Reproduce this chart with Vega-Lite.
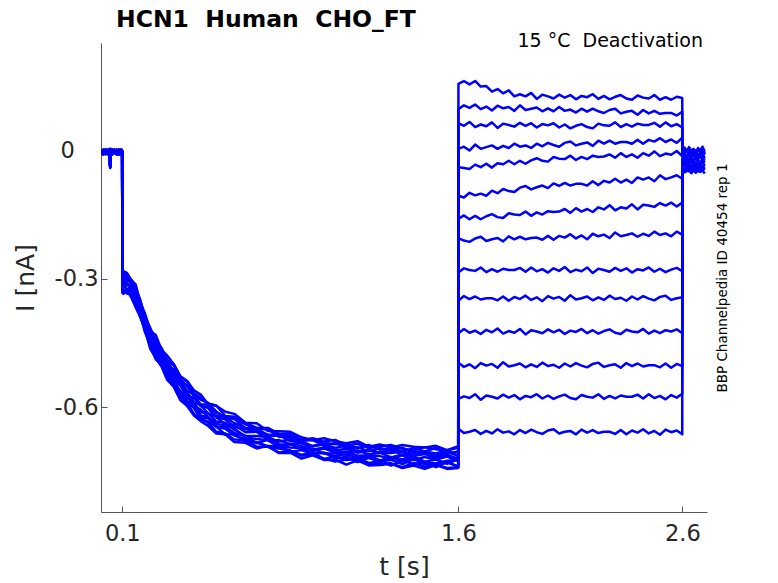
{
  "$schema": "https://vega.github.io/schema/vega-lite/v6.json",
  "width": 606,
  "height": 469,
  "autosize": "none",
  "padding": {"left": 101, "top": 43, "right": 71, "bottom": 71},
  "background": "white",
  "config": {"view": {"stroke": null}, "font": "DejaVu Sans"},
  "title": {"text": "HCN1\u00a0 Human\u00a0 CHO_FT", "anchor": "start", "frame": "group", "fontSize": 23.5, "fontWeight": "bold", "font": "DejaVu Sans", "color": "#000000", "offset": 1, "dx": 15},
  "resolve": {"axis": {"y": "independent"}},
  "layer": [
    {
      "data": {"values": [
        {"t":0.006,"a":0.001,"b":-0.007,"c":0,"d":-0.005,"e":-0.005,"f":0,"g":-0.006,"h":-0.007,"i":0,"j":-0.009,"k":-0.006,"l":0.004,"m":-0.006,"n":-0.007},
        {"t":0.015,"a":-0.002,"b":0,"c":-0.003,"d":0.003,"e":-0.008,"f":-0.008,"g":0.001,"h":0.002,"i":-0.008,"j":0.003,"k":0.003,"l":-0.004,"m":0.001,"n":0.001},
        {"t":0.025,"a":-0.006,"b":-0.006,"c":0.004,"d":-0.003,"e":0.002,"f":0.003,"g":-0.002,"h":-0.008,"i":0.002,"j":-0.003,"k":-0.004,"l":-0.001,"m":-0.007,"n":0.004},
        {"t":0.035,"a":0.003,"b":0.004,"c":-0.006,"d":-0.007,"e":-0.002,"f":-0.004,"g":-0.002,"h":0.001,"i":-0.004,"j":0.001,"k":0.002,"l":-0.008,"m":-0.001,"n":-0.006},
        {"t":0.043,"a":-0.004,"b":-0.004,"c":0.001,"d":0.001,"e":-0.004,"f":0.002,"g":0.003,"h":-0.004,"i":0.005,"j":-0.008,"k":-0.008,"l":0.002,"m":0.003,"n":-0.002},
        {"t":0.046,"a":-0.034,"b":-0.038,"c":-0.031,"d":-0.036,"e":-0.039,"f":-0.033,"g":-0.035,"h":-0.037,"i":-0.032,"j":-0.04,"k":-0.036,"l":-0.034,"m":-0.038,"n":-0.033},
        {"t":0.049,"a":0.002,"b":-0.001,"c":-0.007,"d":0.004,"e":0.004,"f":-0.005,"g":-0.006,"h":0.004,"i":-0.007,"j":0.005,"k":0,"l":-0.005,"m":-0.005,"n":0},
        {"t":0.055,"a":-0.008,"b":-0.008,"c":-0.001,"d":-0.006,"e":-0.007,"f":-0.002,"g":0.004,"h":-0.006,"i":-0.001,"j":-0.005,"k":-0.003,"l":0.003,"m":-0.008,"n":-0.008},
        {"t":0.065,"a":0,"b":0.002,"c":0.003,"d":-0.002,"e":0,"f":-0.002,"g":-0.005,"h":0,"i":-0.005,"j":-0.002,"k":0.004,"l":-0.003,"m":0.002,"n":0.003},
        {"t":0.075,"a":-0.003,"b":-0.005,"c":-0.005,"d":0,"e":-0.006,"f":-0.007,"g":0,"h":-0.009,"i":0.004,"j":0.002,"k":-0.006,"l":-0.007,"m":-0.002,"n":-0.004},
        {"t":0.085,"a":0.004,"b":0.003,"c":-0.008,"d":-0.008,"e":0.001,"f":0.002,"g":-0.008,"h":0.003,"i":-0.009,"j":-0.007,"k":0.001,"l":0.001,"m":-0.004,"n":0.002},
        {"t":0.095,"a":-0.006,"b":-0.003,"c":0.002,"d":0.003,"e":-0.002,"f":-0.008,"g":0.002,"h":-0.003,"i":0.001,"j":0,"k":-0.007,"l":0.004,"m":0.004,"n":-0.005},
        {"t":0.0995,"a":0.001,"b":-0.007,"c":-0.002,"d":-0.004,"e":-0.002,"f":0.001,"g":-0.004,"h":0.001,"i":-0.002,"j":-0.006,"k":-0.001,"l":-0.006,"m":-0.007,"n":-0.002},
        {"t":0.1005,"a":-0.274,"b":-0.314,"c":-0.278,"d":-0.32,"e":-0.299,"f":-0.328,"g":-0.296,"h":-0.315,"i":-0.278,"j":-0.333,"k":-0.299,"l":-0.308,"m":-0.289,"n":-0.323},
        {"t":0.105,"a":-0.282,"b":-0.302,"c":-0.291,"d":-0.329,"e":-0.291,"f":-0.335,"g":-0.304,"h":-0.313,"i":-0.284,"j":-0.324,"k":-0.29,"l":-0.317,"m":-0.293,"n":-0.313},
        {"t":0.12,"a":-0.285,"b":-0.313,"c":-0.292,"d":-0.323,"e":-0.303,"f":-0.326,"g":-0.314,"h":-0.324,"i":-0.289,"j":-0.334,"k":-0.31,"l":-0.308,"m":-0.293,"n":-0.324},
        {"t":0.14,"a":-0.302,"b":-0.32,"c":-0.306,"d":-0.34,"e":-0.307,"f":-0.343,"g":-0.315,"h":-0.324,"i":-0.303,"j":-0.336,"k":-0.315,"l":-0.329,"m":-0.311,"n":-0.332},
        {"t":0.16,"a":-0.313,"b":-0.349,"c":-0.33,"d":-0.35,"e":-0.337,"f":-0.367,"g":-0.339,"h":-0.351,"i":-0.323,"j":-0.361,"k":-0.339,"l":-0.346,"m":-0.325,"n":-0.359},
        {"t":0.18,"a":-0.355,"b":-0.366,"c":-0.351,"d":-0.388,"e":-0.36,"f":-0.389,"g":-0.371,"h":-0.375,"i":-0.348,"j":-0.383,"k":-0.36,"l":-0.372,"m":-0.365,"n":-0.379},
        {"t":0.2,"a":-0.379,"b":-0.406,"c":-0.388,"d":-0.415,"e":-0.398,"f":-0.416,"g":-0.393,"h":-0.412,"i":-0.387,"j":-0.423,"k":-0.403,"l":-0.411,"m":-0.387,"n":-0.416},
        {"t":0.225,"a":-0.421,"b":-0.441,"c":-0.42,"d":-0.46,"e":-0.43,"f":-0.464,"g":-0.442,"h":-0.447,"i":-0.415,"j":-0.455,"k":-0.431,"l":-0.442,"m":-0.428,"n":-0.446},
        {"t":0.25,"a":-0.432,"b":-0.46,"c":-0.451,"d":-0.475,"e":-0.447,"f":-0.486,"g":-0.458,"h":-0.472,"i":-0.445,"j":-0.489,"k":-0.456,"l":-0.472,"m":-0.443,"n":-0.476},
        {"t":0.275,"a":-0.466,"b":-0.49,"c":-0.464,"d":-0.503,"e":-0.476,"f":-0.505,"g":-0.485,"h":-0.498,"i":-0.461,"j":-0.498,"k":-0.481,"l":-0.483,"m":-0.474,"n":-0.501},
        {"t":0.3,"a":-0.479,"b":-0.506,"c":-0.49,"d":-0.518,"e":-0.502,"f":-0.536,"g":-0.501,"h":-0.512,"i":-0.492,"j":-0.527,"k":-0.495,"l":-0.514,"m":-0.49,"n":-0.516},
        {"t":0.33,"a":-0.5,"b":-0.536,"c":-0.503,"d":-0.55,"e":-0.513,"f":-0.553,"g":-0.526,"h":-0.547,"i":-0.5,"j":-0.551,"k":-0.524,"l":-0.535,"m":-0.518,"n":-0.539},
        {"t":0.36,"a":-0.528,"b":-0.55,"c":-0.537,"d":-0.578,"e":-0.541,"f":-0.584,"g":-0.55,"h":-0.562,"i":-0.53,"j":-0.584,"k":-0.542,"l":-0.566,"m":-0.536,"n":-0.573},
        {"t":0.39,"a":-0.539,"b":-0.578,"c":-0.55,"d":-0.59,"e":-0.563,"f":-0.598,"g":-0.565,"h":-0.587,"i":-0.541,"j":-0.591,"k":-0.572,"l":-0.576,"m":-0.552,"n":-0.589},
        {"t":0.42,"a":-0.561,"b":-0.59,"c":-0.573,"d":-0.602,"e":-0.57,"f":-0.62,"g":-0.589,"h":-0.594,"i":-0.568,"j":-0.616,"k":-0.579,"l":-0.598,"m":-0.575,"n":-0.602},
        {"t":0.45,"a":-0.571,"b":-0.613,"c":-0.583,"d":-0.628,"e":-0.597,"f":-0.633,"g":-0.595,"h":-0.62,"i":-0.578,"j":-0.629,"k":-0.598,"l":-0.606,"m":-0.594,"n":-0.626},
        {"t":0.48,"a":-0.591,"b":-0.613,"c":-0.589,"d":-0.634,"e":-0.6,"f":-0.643,"g":-0.614,"h":-0.624,"i":-0.592,"j":-0.635,"k":-0.601,"l":-0.622,"m":-0.594,"n":-0.625},
        {"t":0.52,"a":-0.597,"b":-0.634,"c":-0.611,"d":-0.646,"e":-0.62,"f":-0.662,"g":-0.623,"h":-0.647,"i":-0.597,"j":-0.658,"k":-0.625,"l":-0.64,"m":-0.612,"n":-0.646},
        {"t":0.56,"a":-0.611,"b":-0.637,"c":-0.625,"d":-0.665,"e":-0.624,"f":-0.664,"g":-0.642,"h":-0.646,"i":-0.621,"j":-0.662,"k":-0.629,"l":-0.643,"m":-0.625,"n":-0.651},
        {"t":0.6,"a":-0.616,"b":-0.653,"c":-0.626,"d":-0.663,"e":-0.638,"f":-0.682,"g":-0.642,"h":-0.661,"i":-0.623,"j":-0.676,"k":-0.647,"l":-0.65,"m":-0.628,"n":-0.667},
        {"t":0.65,"a":-0.637,"b":-0.668,"c":-0.641,"d":-0.681,"e":-0.649,"f":-0.684,"g":-0.659,"h":-0.668,"i":-0.637,"j":-0.677,"k":-0.652,"l":-0.671,"m":-0.65,"n":-0.675},
        {"t":0.7,"a":-0.638,"b":-0.668,"c":-0.651,"d":-0.683,"e":-0.652,"f":-0.697,"g":-0.658,"h":-0.685,"i":-0.649,"j":-0.693,"k":-0.656,"l":-0.675,"m":-0.651,"n":-0.683},
        {"t":0.75,"a":-0.656,"b":-0.67,"c":-0.652,"d":-0.693,"e":-0.669,"f":-0.691,"g":-0.677,"h":-0.676,"i":-0.649,"j":-0.693,"k":-0.671,"l":-0.678,"m":-0.665,"n":-0.692},
        {"t":0.8,"a":-0.657,"b":-0.687,"c":-0.67,"d":-0.697,"e":-0.666,"f":-0.708,"g":-0.678,"h":-0.693,"i":-0.663,"j":-0.707,"k":-0.681,"l":-0.693,"m":-0.665,"n":-0.69},
        {"t":0.85,"a":-0.658,"b":-0.688,"c":-0.668,"d":-0.702,"e":-0.68,"f":-0.707,"g":-0.687,"h":-0.695,"i":-0.662,"j":-0.702,"k":-0.676,"l":-0.687,"m":-0.673,"n":-0.705},
        {"t":0.9,"a":-0.671,"b":-0.691,"c":-0.679,"d":-0.712,"e":-0.68,"f":-0.721,"g":-0.683,"h":-0.696,"i":-0.677,"j":-0.714,"k":-0.685,"l":-0.699,"m":-0.678,"n":-0.701},
        {"t":0.95,"a":-0.678,"b":-0.703,"c":-0.676,"d":-0.707,"e":-0.692,"f":-0.713,"g":-0.7,"h":-0.709,"i":-0.673,"j":-0.71,"k":-0.691,"l":-0.697,"m":-0.677,"n":-0.71},
        {"t":1.0,"a":-0.673,"b":-0.697,"c":-0.684,"d":-0.722,"e":-0.687,"f":-0.724,"g":-0.695,"h":-0.707,"i":-0.681,"j":-0.721,"k":-0.688,"l":-0.709,"m":-0.691,"n":-0.707},
        {"t":1.05,"a":-0.68,"b":-0.707,"c":-0.687,"d":-0.716,"e":-0.696,"f":-0.723,"g":-0.701,"h":-0.716,"i":-0.677,"j":-0.728,"k":-0.702,"l":-0.709,"m":-0.684,"n":-0.72},
        {"t":1.1,"a":-0.685,"b":-0.704,"c":-0.685,"d":-0.724,"e":-0.69,"f":-0.735,"g":-0.708,"h":-0.709,"i":-0.69,"j":-0.723,"k":-0.698,"l":-0.712,"m":-0.696,"n":-0.717},
        {"t":1.15,"a":-0.68,"b":-0.714,"c":-0.697,"d":-0.719,"e":-0.705,"f":-0.725,"g":-0.702,"h":-0.72,"i":-0.686,"j":-0.723,"k":-0.707,"l":-0.72,"m":-0.694,"n":-0.729},
        {"t":1.2,"a":-0.693,"b":-0.713,"c":-0.689,"d":-0.731,"e":-0.701,"f":-0.737,"g":-0.711,"h":-0.719,"i":-0.696,"j":-0.735,"k":-0.702,"l":-0.713,"m":-0.704,"n":-0.719},
        {"t":1.25,"a":-0.688,"b":-0.715,"c":-0.7,"d":-0.727,"e":-0.707,"f":-0.736,"g":-0.707,"h":-0.728,"i":-0.692,"j":-0.733,"k":-0.707,"l":-0.725,"m":-0.696,"n":-0.727},
        {"t":1.3,"a":-0.695,"b":-0.721,"c":-0.696,"d":-0.737,"e":-0.699,"f":-0.733,"g":-0.718,"h":-0.719,"i":-0.689,"j":-0.732,"k":-0.708,"l":-0.717,"m":-0.703,"n":-0.724},
        {"t":1.35,"a":-0.689,"b":-0.713,"c":-0.705,"d":-0.726,"e":-0.713,"f":-0.743,"g":-0.711,"h":-0.727,"i":-0.698,"j":-0.741,"k":-0.704,"l":-0.723,"m":-0.695,"n":-0.734},
        {"t":1.4,"a":-0.693,"b":-0.724,"c":-0.696,"d":-0.733,"e":-0.704,"f":-0.737,"g":-0.715,"h":-0.72,"i":-0.702,"j":-0.731,"k":-0.714,"l":-0.716,"m":-0.708,"n":-0.722},
        {"t":1.45,"a":-0.695,"b":-0.717,"c":-0.704,"d":-0.731,"e":-0.709,"f":-0.745,"g":-0.71,"h":-0.728,"i":-0.694,"j":-0.74,"k":-0.706,"l":-0.728,"m":-0.704,"n":-0.734},
        {"t":1.5,"a":-0.691,"b":-0.723,"c":-0.696,"d":-0.741,"e":-0.714,"f":-0.736,"g":-0.721,"h":-0.733,"i":-0.699,"j":-0.735,"k":-0.716,"l":-0.723,"m":-0.709,"n":-0.732},
        {"t":1.55,"a":-0.701,"b":-0.716,"c":-0.709,"d":-0.729,"e":-0.706,"f":-0.745,"g":-0.715,"h":-0.726,"i":-0.702,"j":-0.743,"k":-0.712,"l":-0.733,"m":-0.701,"n":-0.729},
        {"t":1.5995,"a":-0.692,"b":-0.727,"c":-0.704,"d":-0.74,"e":-0.714,"f":-0.743,"g":-0.724,"h":-0.724,"i":-0.695,"j":-0.741,"k":-0.721,"l":-0.722,"m":-0.715,"n":-0.739},
        {"t":1.6005,"a":0.157,"b":0.098,"c":0.065,"d":0.005,"e":-0.038,"f":-0.105,"g":-0.159,"h":-0.204,"i":-0.285,"j":-0.351,"k":-0.427,"l":-0.496,"m":-0.581,"n":-0.651},
        {"t":1.625,"a":0.164,"b":0.107,"c":0.059,"d":0.01,"e":-0.04,"f":-0.109,"g":-0.151,"h":-0.21,"i":-0.275,"j":-0.34,"k":-0.417,"l":-0.506,"m":-0.575,"n":-0.661},
        {"t":1.65,"a":0.156,"b":0.101,"c":0.068,"d":0.001,"e":-0.042,"f":-0.098,"g":-0.16,"h":-0.213,"i":-0.279,"j":-0.347,"k":-0.426,"l":-0.5,"m":-0.579,"n":-0.658},
        {"t":1.675,"a":0.164,"b":0.109,"c":0.056,"d":0.015,"e":-0.032,"f":-0.104,"g":-0.152,"h":-0.205,"i":-0.281,"j":-0.341,"k":-0.421,"l":-0.509,"m":-0.57,"n":-0.654},
        {"t":1.7,"a":0.151,"b":0.098,"c":0.062,"d":0.005,"e":-0.038,"f":-0.1,"g":-0.16,"h":-0.201,"i":-0.273,"j":-0.348,"k":-0.429,"l":-0.497,"m":-0.583,"n":-0.663},
        {"t":1.725,"a":0.152,"b":0.104,"c":0.058,"d":0.009,"e":-0.03,"f":-0.105,"g":-0.153,"h":-0.211,"i":-0.284,"j":-0.345,"k":-0.419,"l":-0.503,"m":-0.573,"n":-0.656},
        {"t":1.75,"a":0.139,"b":0.095,"c":0.067,"d":0.013,"e":-0.039,"f":-0.093,"g":-0.148,"h":-0.207,"i":-0.277,"j":-0.345,"k":-0.425,"l":-0.499,"m":-0.576,"n":-0.662},
        {"t":1.775,"a":0.145,"b":0.106,"c":0.054,"d":0.005,"e":-0.029,"f":-0.099,"g":-0.155,"h":-0.204,"i":-0.283,"j":-0.35,"k":-0.416,"l":-0.508,"m":-0.58,"n":-0.652},
        {"t":1.8,"a":0.135,"b":0.1,"c":0.064,"d":0.012,"e":-0.031,"f":-0.089,"g":-0.157,"h":-0.212,"i":-0.276,"j":-0.341,"k":-0.428,"l":-0.495,"m":-0.571,"n":-0.66},
        {"t":1.825,"a":0.142,"b":0.103,"c":0.061,"d":0.007,"e":-0.023,"f":-0.094,"g":-0.146,"h":-0.2,"i":-0.279,"j":-0.351,"k":-0.422,"l":-0.505,"m":-0.578,"n":-0.657},
        {"t":1.85,"a":0.128,"b":0.094,"c":0.057,"d":0.017,"e":-0.031,"f":-0.096,"g":-0.149,"h":-0.207,"i":-0.279,"j":-0.342,"k":-0.426,"l":-0.502,"m":-0.572,"n":-0.664},
        {"t":1.875,"a":0.133,"b":0.107,"c":0.066,"d":0.01,"e":-0.023,"f":-0.086,"g":-0.15,"h":-0.201,"i":-0.274,"j":-0.347,"k":-0.417,"l":-0.498,"m":-0.582,"n":-0.654},
        {"t":1.9,"a":0.128,"b":0.096,"c":0.059,"d":0.013,"e":-0.03,"f":-0.082,"g":-0.142,"h":-0.207,"i":-0.283,"j":-0.339,"k":-0.43,"l":-0.507,"m":-0.574,"n":-0.661},
        {"t":1.925,"a":0.136,"b":0.099,"c":0.065,"d":0.007,"e":-0.022,"f":-0.09,"g":-0.152,"h":-0.204,"i":-0.273,"j":-0.349,"k":-0.42,"l":-0.5,"m":-0.577,"n":-0.653},
        {"t":1.95,"a":0.122,"b":0.102,"c":0.055,"d":0.017,"e":-0.017,"f":-0.085,"g":-0.144,"h":-0.203,"i":-0.282,"j":-0.343,"k":-0.423,"l":-0.506,"m":-0.57,"n":-0.659},
        {"t":1.975,"a":0.132,"b":0.093,"c":0.063,"d":0.011,"e":-0.023,"f":-0.081,"g":-0.149,"h":-0.208,"i":-0.277,"j":-0.352,"k":-0.427,"l":-0.496,"m":-0.58,"n":-0.663},
        {"t":2.0,"a":0.128,"b":0.1,"c":0.06,"d":0.019,"e":-0.025,"f":-0.087,"g":-0.141,"h":-0.199,"i":-0.285,"j":-0.34,"k":-0.418,"l":-0.504,"m":-0.573,"n":-0.655},
        {"t":2.025,"a":0.123,"b":0.093,"c":0.065,"d":0.014,"e":-0.014,"f":-0.076,"g":-0.143,"h":-0.208,"i":-0.275,"j":-0.346,"k":-0.425,"l":-0.501,"m":-0.581,"n":-0.652},
        {"t":2.05,"a":0.132,"b":0.103,"c":0.055,"d":0.01,"e":-0.018,"f":-0.082,"g":-0.142,"h":-0.199,"i":-0.281,"j":-0.342,"k":-0.419,"l":-0.508,"m":-0.575,"n":-0.662},
        {"t":2.075,"a":0.125,"b":0.094,"c":0.062,"d":0.019,"e":-0.019,"f":-0.075,"g":-0.136,"h":-0.203,"i":-0.272,"j":-0.351,"k":-0.429,"l":-0.498,"m":-0.571,"n":-0.658},
        {"t":2.1,"a":0.131,"b":0.097,"c":0.053,"d":0.022,"e":-0.011,"f":-0.081,"g":-0.145,"h":-0.195,"i":-0.284,"j":-0.338,"k":-0.421,"l":-0.505,"m":-0.579,"n":-0.656},
        {"t":2.125,"a":0.121,"b":0.09,"c":0.059,"d":0.013,"e":-0.021,"f":-0.077,"g":-0.134,"h":-0.205,"i":-0.278,"j":-0.348,"k":-0.424,"l":-0.497,"m":-0.582,"n":-0.664},
        {"t":2.15,"a":0.129,"b":0.099,"c":0.063,"d":0.017,"e":-0.014,"f":-0.077,"g":-0.142,"h":-0.198,"i":-0.282,"j":-0.345,"k":-0.417,"l":-0.503,"m":-0.572,"n":-0.653},
        {"t":2.175,"a":0.126,"b":0.092,"c":0.056,"d":0.02,"e":-0.019,"f":-0.081,"g":-0.136,"h":-0.207,"i":-0.273,"j":-0.341,"k":-0.427,"l":-0.507,"m":-0.576,"n":-0.66},
        {"t":2.2,"a":0.133,"b":0.099,"c":0.053,"d":0.012,"e":-0.011,"f":-0.071,"g":-0.143,"h":-0.194,"i":-0.286,"j":-0.35,"k":-0.42,"l":-0.499,"m":-0.578,"n":-0.654},
        {"t":2.225,"a":0.122,"b":0.093,"c":0.064,"d":0.024,"e":-0.014,"f":-0.08,"g":-0.132,"h":-0.2,"i":-0.276,"j":-0.343,"k":-0.428,"l":-0.496,"m":-0.57,"n":-0.661},
        {"t":2.25,"a":0.129,"b":0.089,"c":0.06,"d":0.017,"e":-0.013,"f":-0.07,"g":-0.137,"h":-0.196,"i":-0.279,"j":-0.349,"k":-0.422,"l":-0.506,"m":-0.581,"n":-0.658},
        {"t":2.275,"a":0.121,"b":0.096,"c":0.059,"d":0.024,"e":-0.008,"f":-0.074,"g":-0.127,"h":-0.204,"i":-0.283,"j":-0.339,"k":-0.418,"l":-0.502,"m":-0.574,"n":-0.658},
        {"t":2.3,"a":0.127,"b":0.099,"c":0.067,"d":0.017,"e":-0.016,"f":-0.065,"g":-0.139,"h":-0.191,"i":-0.274,"j":-0.347,"k":-0.426,"l":-0.5,"m":-0.58,"n":-0.663},
        {"t":2.325,"a":0.131,"b":0.088,"c":0.056,"d":0.021,"e":-0.005,"f":-0.074,"g":-0.132,"h":-0.2,"i":-0.281,"j":-0.344,"k":-0.429,"l":-0.508,"m":-0.573,"n":-0.654},
        {"t":2.35,"a":0.123,"b":0.092,"c":0.063,"d":0.021,"e":-0.014,"f":-0.067,"g":-0.135,"h":-0.197,"i":-0.275,"j":-0.351,"k":-0.419,"l":-0.497,"m":-0.576,"n":-0.664},
        {"t":2.375,"a":0.12,"b":0.094,"c":0.057,"d":0.017,"e":-0.008,"f":-0.075,"g":-0.125,"h":-0.193,"i":-0.285,"j":-0.341,"k":-0.423,"l":-0.504,"m":-0.576,"n":-0.655},
        {"t":2.4,"a":0.13,"b":0.085,"c":0.064,"d":0.026,"e":-0.016,"f":-0.062,"g":-0.137,"h":-0.201,"i":-0.277,"j":-0.348,"k":-0.425,"l":-0.498,"m":-0.571,"n":-0.66},
        {"t":2.425,"a":0.125,"b":0.096,"c":0.061,"d":0.017,"e":-0.005,"f":-0.067,"g":-0.126,"h":-0.194,"i":-0.28,"j":-0.34,"k":-0.417,"l":-0.505,"m":-0.58,"n":-0.652},
        {"t":2.45,"a":0.123,"b":0.088,"c":0.061,"d":0.026,"e":-0.011,"f":-0.062,"g":-0.128,"h":-0.199,"i":-0.273,"j":-0.346,"k":-0.428,"l":-0.502,"m":-0.57,"n":-0.662},
        {"t":2.475,"a":0.131,"b":0.094,"c":0.066,"d":0.022,"e":-0.001,"f":-0.071,"g":-0.131,"h":-0.189,"i":-0.283,"j":-0.35,"k":-0.421,"l":-0.502,"m":-0.579,"n":-0.656},
        {"t":2.5,"a":0.12,"b":0.087,"c":0.057,"d":0.03,"e":-0.012,"f":-0.057,"g":-0.122,"h":-0.197,"i":-0.276,"j":-0.342,"k":-0.427,"l":-0.507,"m":-0.574,"n":-0.665},
        {"t":2.525,"a":0.126,"b":0.089,"c":0.067,"d":0.021,"e":-0.006,"f":-0.066,"g":-0.128,"h":-0.193,"i":-0.284,"j":-0.339,"k":-0.42,"l":-0.498,"m":-0.582,"n":-0.653},
        {"t":2.55,"a":0.12,"b":0.089,"c":0.058,"d":0.027,"e":-0.009,"f":-0.062,"g":-0.121,"h":-0.2,"i":-0.278,"j":-0.349,"k":-0.423,"l":-0.508,"m":-0.572,"n":-0.659},
        {"t":2.575,"a":0.127,"b":0.083,"c":0.063,"d":0.019,"e":0,"f":-0.057,"g":-0.13,"h":-0.189,"i":-0.274,"j":-0.345,"k":-0.418,"l":-0.499,"m":-0.578,"n":-0.655},
        {"t":2.5995,"a":0.124,"b":0.092,"c":0.055,"d":0.031,"e":-0.012,"f":-0.065,"g":-0.121,"h":-0.196,"i":-0.282,"j":-0.343,"k":-0.427,"l":-0.504,"m":-0.569,"n":-0.664},
        {"t":2.6005,"a":0.003,"b":-0.007,"c":-0.001,"d":-0.01,"e":-0.01,"f":-0.015,"g":-0.022,"h":-0.02,"i":-0.035,"j":-0.039,"k":-0.041,"l":-0.035,"m":-0.049,"n":-0.04},
        {"t":2.61,"a":0.008,"b":0.002,"c":-0.007,"d":-0.006,"e":-0.013,"f":-0.021,"g":-0.015,"h":-0.026,"i":-0.025,"j":-0.028,"k":-0.031,"l":-0.045,"m":-0.043,"n":-0.05},
        {"t":2.62,"a":-0.001,"b":-0.003,"c":0.002,"d":-0.015,"e":-0.017,"f":-0.011,"g":-0.025,"h":-0.03,"i":-0.029,"j":-0.035,"k":-0.04,"l":-0.039,"m":-0.047,"n":-0.047},
        {"t":2.63,"a":0.009,"b":0.005,"c":-0.01,"d":-0.002,"e":-0.008,"f":-0.019,"g":-0.018,"h":-0.022,"i":-0.031,"j":-0.029,"k":-0.035,"l":-0.048,"m":-0.038,"n":-0.043},
        {"t":2.64,"a":0,"b":-0.005,"c":-0.004,"d":-0.012,"e":-0.015,"f":-0.016,"g":-0.026,"h":-0.019,"i":-0.023,"j":-0.036,"k":-0.043,"l":-0.036,"m":-0.051,"n":-0.052},
        {"t":2.65,"a":0.005,"b":0.001,"c":-0.008,"d":-0.009,"e":-0.009,"f":-0.023,"g":-0.02,"h":-0.029,"i":-0.034,"j":-0.033,"k":-0.033,"l":-0.042,"m":-0.041,"n":-0.045},
        {"t":2.66,"a":-0.003,"b":-0.008,"c":0.001,"d":-0.005,"e":-0.019,"f":-0.013,"g":-0.016,"h":-0.025,"i":-0.027,"j":-0.033,"k":-0.039,"l":-0.038,"m":-0.044,"n":-0.051},
        {"t":2.67,"a":0.007,"b":0.004,"c":-0.012,"d":-0.014,"e":-0.011,"f":-0.02,"g":-0.024,"h":-0.023,"i":-0.033,"j":-0.038,"k":-0.03,"l":-0.047,"m":-0.048,"n":-0.041},
        {"t":2.68,"a":0.001,"b":-0.002,"c":-0.002,"d":-0.007,"e":-0.014,"f":-0.012,"g":-0.027,"h":-0.031,"i":-0.026,"j":-0.029,"k":-0.042,"l":-0.034,"m":-0.039,"n":-0.049},
        {"t":2.69,"a":0.01,"b":0.002,"c":-0.005,"d":-0.013,"e":-0.007,"f":-0.018,"g":-0.017,"h":-0.02,"i":-0.029,"j":-0.039,"k":-0.036,"l":-0.044,"m":-0.046,"n":-0.046},
        {"t":2.7,"a":-0.002,"b":-0.007,"c":-0.009,"d":-0.003,"e":-0.017,"f":-0.022,"g":-0.021,"h":-0.027,"i":-0.029,"j":-0.03,"k":-0.04,"l":-0.041,"m":-0.04,"n":-0.053}
      ]},
      "transform": [{"fold": ["a","b","c","d","e","f","g","h","i","j","k","l","m","n"], "as": ["sweep","I"]}],
      "mark": {"type": "line", "color": "#0000ff", "strokeWidth": 2.5, "strokeJoin": "round", "clip": true},
      "encoding": {
        "x": {
          "field": "t", "type": "quantitative",
          "scale": {"domain": [0.005, 2.71], "nice": false, "zero": false},
          "axis": {"values": [0.1, 1.6, 2.6], "format": ".1f", "title": "t [s]", "grid": false,
            "labelFontSize": 22.5, "labelColor": "#262626", "labelFlush": false, "labelOverlap": false, "labelPadding": 16,
            "tickSize": -6, "tickColor": "#555555", "domainColor": "#555555",
            "titleFontSize": 25, "titleFontWeight": "normal", "titleColor": "#262626", "titlePadding": 10}
        },
        "y": {
          "field": "I", "type": "quantitative",
          "scale": {"domain": [-0.846, 0.253], "nice": false, "zero": false},
          "axis": {"values": [-0.6, -0.3, 0], "labelExpr": "datum.value == 0 ? '0\u00a0\u2800' : '-' + format(-datum.value, '.1f')", "title": "I [nA]", "grid": false,
            "labelFontSize": 22.5, "labelColor": "#262626", "labelPadding": 9,
            "tickSize": -6, "tickColor": "#555555", "domainColor": "#555555",
            "titleFontSize": 25, "titleFontWeight": "normal", "titleColor": "#262626", "titlePadding": 16}
        },
        "detail": {"field": "sweep"},
        "order": {"field": "t"}
      }
    },
    {
      "data": {"values": [{"t": 2.692, "I": 0.2436, "label": "15 °C\u00a0 Deactivation"}]},
      "mark": {"type": "text", "align": "right", "baseline": "alphabetic", "fontSize": 19, "font": "DejaVu Sans", "color": "#000000"},
      "encoding": {
        "x": {"field": "t", "type": "quantitative"},
        "y": {
          "field": "I", "type": "quantitative",
          "axis": {"orient": "right", "title": "BBP Channelpedia ID 40454 rep 1", "labels": false, "ticks": false, "domain": false, "grid": false,
            "titleFontSize": 13.5, "titleFontWeight": "normal", "titleColor": "#000000", "titleAngle": 270, "titleBaseline": "top", "titlePadding": 8}
        },
        "text": {"field": "label"}
      }
    }
  ]
}
